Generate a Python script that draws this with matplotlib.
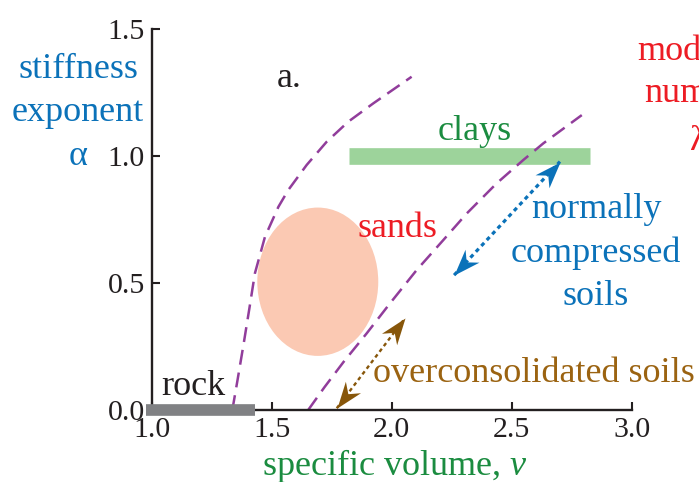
import numpy as np
import matplotlib
matplotlib.use("Agg")
import matplotlib.pyplot as plt
from matplotlib.patches import Ellipse
from matplotlib.path import Path
from matplotlib.markers import MarkerStyle
from matplotlib.transforms import Affine2D

plt.rcParams['font.family'] = ['Liberation Serif', 'DejaVu Serif']
plt.rcParams['mathtext.fontset'] = 'custom'
plt.rcParams['mathtext.rm'] = 'Liberation Serif'
plt.rcParams['mathtext.it'] = 'Liberation Serif:italic'

# ---------------- data ----------------
x_ticks = [1.0, 1.5, 2.0, 2.5, 3.0]
x_tick_labels = ["1.0", "1.5", "2.0", "2.5", "3.0"]
y_ticks = [0.0, 0.5, 1.0, 1.5]
y_tick_labels = ["0.0", "0.5", "1.0", "1.5"]

# dashed boundary curves (specific volume v, stiffness exponent alpha)
left_curve_v = [1.336, 1.358, 1.383, 1.407, 1.430, 1.472, 1.528, 1.569, 1.646, 1.729, 1.819, 1.923, 2.083]
left_curve_a = [0.000, 0.120, 0.260, 0.400, 0.538, 0.682, 0.800, 0.866, 0.965, 1.056, 1.135, 1.207, 1.312]
right_curve_v = [1.652, 1.720, 1.800, 1.896, 1.993, 2.104, 2.215, 2.313, 2.438, 2.548, 2.632, 2.792]
right_curve_a = [0.000, 0.090, 0.190, 0.302, 0.420, 0.551, 0.669, 0.774, 0.893, 0.984, 1.050, 1.161]

# material ranges
rock_v = [0.976, 1.430]
rock_a = [0.0, 0.0]
clays_v = [1.820, 2.826]
clays_a = [1.0, 1.0]
sands_center = (1.692, 0.505)
sands_width = 0.504
sands_height = 0.584

# double-headed arrows
nc_arrow_v = [2.260, 2.701]
nc_arrow_a = [0.531, 0.978]
oc_arrow_v = [1.771, 2.055]
oc_arrow_a = [0.007, 0.361]

# ---------------- colours ----------------
BLACK = '#231f20'
BLUE = '#0b72b9'
RED = '#ed1c24'
GREEN_TXT = '#1b8c40'
BROWN_TXT = '#9b6311'
BROWN = '#87560a'
PURPLE = '#913d9b'
GREEN_BAR = '#9dd39b'
SALMON = '#fbc9b3'
GRAY = '#808184'

W, H = 699, 482
fig = plt.figure(figsize=(W / 100, H / 100), dpi=100)
# axes: v=1 at x=151.7px, v=3 at 631.7px ; alpha=0 at y=410px, 1.5 at 29px
ax = fig.add_axes([151.7 / W, (H - 410) / H, 480 / W, 381 / H])
ax.set_xlim(1.0, 3.0)
ax.set_ylim(0.0, 1.5)

for s in ['top', 'right']:
    ax.spines[s].set_visible(False)
for s in ['left', 'bottom']:
    ax.spines[s].set_linewidth(1.7)
    ax.spines[s].set_color(BLACK)
ax.set_xticks(x_ticks)
ax.set_xticklabels(x_tick_labels)
ax.set_yticks(y_ticks)
ax.set_yticklabels(y_tick_labels)
ax.tick_params(direction='in', length=6, width=1.5, color=BLACK,
               labelsize=21.5, labelcolor=BLACK, pad=5)
ax.patch.set_alpha(0)

fs = 26

# sands ellipse
ax.add_patch(Ellipse(sands_center, sands_width, sands_height,
                     facecolor=SALMON, edgecolor='none', zorder=1))
# clays bar
ax.plot(clays_v, clays_a, color=GREEN_BAR, lw=12, solid_capstyle='butt', zorder=1)
# rock bar
ax.plot(rock_v, rock_a, color=GRAY, lw=8.4, solid_capstyle='butt', zorder=3,
        clip_on=False)

# dashed curves
for cv, ca in [(left_curve_v, left_curve_a), (right_curve_v, right_curve_a)]:
    ax.plot(cv, ca, color=PURPLE, lw=1.8, linestyle=(0, (6.0, 3.2)), zorder=2)


def stealth(angle):
    verts = [(0, 0), (-1, 0.36), (-0.68, 0), (-1, -0.36), (0, 0)]
    codes = [Path.MOVETO, Path.LINETO, Path.LINETO, Path.LINETO, Path.CLOSEPOLY]
    return MarkerStyle(Path(verts, codes), transform=Affine2D().rotate_deg(angle))


def double_arrow(vs, als, color, lw, dash, ms):
    ax.plot(vs, als, color=color, lw=lw, linestyle=dash, zorder=4)
    p = ax.transData.transform(np.column_stack([vs, als]))
    d = p[1] - p[0]
    ang = np.degrees(np.arctan2(d[1], d[0]))
    ax.plot([vs[1]], [als[1]], marker=stealth(ang), ms=ms, color=color, mew=0,
            linestyle='none', zorder=5, clip_on=False)
    ax.plot([vs[0]], [als[0]], marker=stealth(ang + 180), ms=ms, color=color, mew=0,
            linestyle='none', zorder=5, clip_on=False)


double_arrow(nc_arrow_v, nc_arrow_a, BLUE, 2.3, (0, (1.3, 1.2)), 38)
double_arrow(oc_arrow_v, oc_arrow_a, BROWN, 1.7, (0, (1.6, 1.4)), 38)


# ---------------- texts ----------------
def px(x, y):
    return x / W, (H - y) / H


def ftext(x, y, s, color, ha='center', size=fs):
    fig.text(*px(x, y), s, color=color, ha=ha, va='baseline', fontsize=size)


ftext(277, 87, "a.", BLACK, ha='left')
ftext(475, 140, "clays", GREEN_TXT)
ftext(397.5, 236.7, "sands", RED)
ftext(161, 395, "rock", BLACK, ha='left')
ftext(596, 218.3, "normally", BLUE)
ftext(596, 261.7, "compressed", BLUE)
ftext(596, 305, "soils", BLUE)
ftext(373, 381.7, "overconsolidated soils", BROWN_TXT, ha='left')
ftext(78, 78, "stiffness", BLUE)
ftext(78, 121, "exponent", BLUE)
ftext(78.5, 165, "α", BLUE)
ftext(699, 60, "modulus", RED)
ftext(699, 102, "number", RED)
ftext(699, 150, "λ", RED)
ftext(395, 475, r"specific volume, $\mathit{v}$", GREEN_TXT)

fig.savefig("out.png", dpi=100)
